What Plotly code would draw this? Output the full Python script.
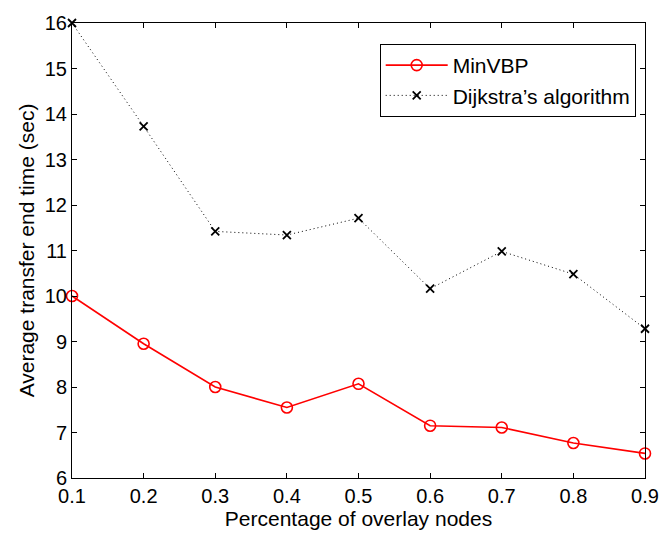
import plotly.graph_objects as go

x_vals = [0.1, 0.2, 0.3, 0.4, 0.5, 0.6, 0.7, 0.8, 0.9]
minvbp = [10.0, 8.95, 8.0, 7.55, 8.07, 7.15, 7.11, 6.77, 6.54]
dijkstra = [16.0, 13.73, 11.42, 11.34, 11.71, 10.16, 10.98, 10.48, 9.28]
x_ticks = [0.1, 0.2, 0.3, 0.4, 0.5, 0.6, 0.7, 0.8, 0.9]
y_ticks = [6, 7, 8, 9, 10, 11, 12, 13, 14, 15, 16]

FONT = "Liberation Sans, Arial, Helvetica, sans-serif"
FS = 21

fig = go.Figure()
fig.add_trace(go.Scatter(
    x=x_vals, y=minvbp, name="MinVBP", mode="lines+markers",
    line=dict(color="red", width=1.6),
    marker=dict(symbol="circle-open", size=11, color="red", line=dict(width=1.6, color="red")),
    cliponaxis=False,
))
fig.add_trace(go.Scatter(
    x=x_vals, y=dijkstra, name="Dijkstra\u2019s algorithm", mode="lines+markers",
    line=dict(color="black", width=1, dash="1px,3px"),
    marker=dict(symbol="x-thin", size=8, color="black", line=dict(width=1.8, color="black")),
    cliponaxis=False,
))

axis_common = dict(
    showline=True, linecolor="black", linewidth=1, mirror="ticks",
    ticks="inside", ticklen=5, tickcolor="black", showgrid=False, zeroline=False,
    tickfont=dict(family=FONT, size=FS - 1, color="black"),
)
fig.update_xaxes(range=[0.1, 0.9], tickvals=x_ticks, ticktext=[str(t) for t in x_ticks],
                 title=dict(text="Percentage of overlay nodes", standoff=0,
                            font=dict(family=FONT, size=FS, color="black")),
                 **axis_common)
fig.update_yaxes(range=[6, 16], tickvals=y_ticks,
                 title=dict(text="Average transfer end time (sec)", standoff=4,
                            font=dict(family=FONT, size=FS, color="black")),
                 **axis_common)

fig.update_layout(
    width=671, height=534,
    margin=dict(l=72, r=17, t=19, b=56),
    paper_bgcolor="white", plot_bgcolor="white",
    font=dict(family=FONT, color="black"),
    legend=dict(x=0.537, y=0.954, xanchor="left", yanchor="top",
                bordercolor="black", borderwidth=1, bgcolor="white",
                font=dict(family=FONT, size=FS, color="black"),
                tracegroupgap=0, itemwidth=62),
)

fig.write_html("out.html")
